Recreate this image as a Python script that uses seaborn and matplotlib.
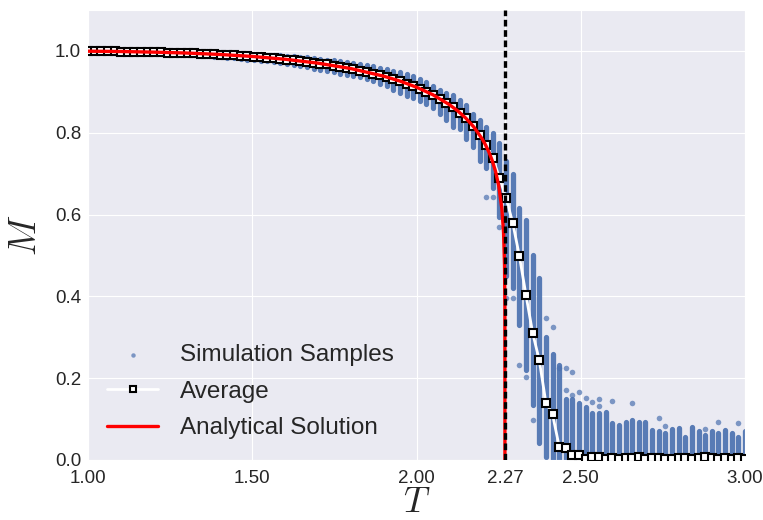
import numpy as np
import matplotlib
matplotlib.use("Agg")
import matplotlib.pyplot as plt
import seaborn as sns

# ---------------- data ----------------
T = [1.0, 1.0202, 1.0404, 1.0606, 1.0808, 1.1010, 1.1212, 1.1414, 1.1616, 1.1818,
     1.2020, 1.2222, 1.2424, 1.2626, 1.2828, 1.3030, 1.3232, 1.3434, 1.3636, 1.3838,
     1.4040, 1.4242, 1.4444, 1.4646, 1.4848, 1.5051, 1.5253, 1.5455, 1.5657, 1.5859,
     1.6061, 1.6263, 1.6465, 1.6667, 1.6869, 1.7071, 1.7273, 1.7475, 1.7677, 1.7879,
     1.8081, 1.8283, 1.8485, 1.8687, 1.8889, 1.9091, 1.9293, 1.9495, 1.9697, 1.9899,
     2.0101, 2.0303, 2.0505, 2.0707, 2.0909, 2.1111, 2.1313, 2.1515, 2.1717, 2.1919,
     2.2121, 2.2323, 2.2525, 2.2727, 2.2929, 2.3131, 2.3333, 2.3535, 2.3737, 2.3939,
     2.4141, 2.4343, 2.4545, 2.4747, 2.4949, 2.5152, 2.5354, 2.5556, 2.5758, 2.5960,
     2.6162, 2.6364, 2.6566, 2.6768, 2.6970, 2.7172, 2.7374, 2.7576, 2.7778, 2.7980,
     2.8182, 2.8384, 2.8586, 2.8788, 2.8990, 2.9192, 2.9394, 2.9596, 2.9798, 3.0]

avg_M = [0.999, 0.999, 0.999, 0.999, 0.999, 0.998, 0.998, 0.998, 0.998, 0.997,
         0.997, 0.997, 0.996, 0.996, 0.995, 0.995, 0.994, 0.993, 0.993, 0.992,
         0.991, 0.990, 0.989, 0.988, 0.987, 0.986, 0.985, 0.983, 0.982, 0.981,
         0.979, 0.977, 0.975, 0.973, 0.971, 0.969, 0.967, 0.964, 0.961, 0.958,
         0.956, 0.952, 0.948, 0.944, 0.940, 0.937, 0.932, 0.927, 0.920, 0.914,
         0.907, 0.900, 0.892, 0.883, 0.873, 0.864, 0.849, 0.836, 0.816, 0.794,
         0.769, 0.738, 0.690, 0.640, 0.580, 0.499, 0.403, 0.311, 0.244, 0.140,
         0.112, 0.033, 0.030, 0.012, 0.012, 0.003, 0.008, 0.007, 0.003, 0.004,
         0.002, 0.004, 0.005, 0.008, 0.003, 0.004, 0.005, 0.003, 0.003, 0.004,
         0.004, 0.003, 0.005, 0.007, 0.006, 0.003, 0.006, 0.003, 0.004, 0.002]

# extent of the dense cloud of samples at each temperature
sample_lo = [0.997, 0.997, 0.997, 0.997, 0.996, 0.996, 0.996, 0.995, 0.995, 0.994,
             0.994, 0.993, 0.992, 0.992, 0.991, 0.990, 0.989, 0.988, 0.987, 0.986,
             0.985, 0.983, 0.982, 0.980, 0.979, 0.977, 0.976, 0.975, 0.973, 0.971,
             0.968, 0.966, 0.963, 0.960, 0.957, 0.954, 0.951, 0.948, 0.944, 0.941,
             0.938, 0.935, 0.931, 0.927, 0.920, 0.913, 0.905, 0.897, 0.890, 0.884,
             0.878, 0.870, 0.860, 0.845, 0.832, 0.815, 0.808, 0.785, 0.766, 0.730,
             0.714, 0.665, 0.595, 0.450, 0.420, 0.330, 0.220, 0.134, 0.041, 0.008,
             0.0, 0.0, 0.0, 0.0, 0.0, 0.0, 0.0, 0.0, 0.0, 0.0,
             0.0, 0.0, 0.0, 0.0, 0.0, 0.0, 0.0, 0.0, 0.0, 0.0,
             0.0, 0.0, 0.0, 0.0, 0.0, 0.0, 0.0, 0.0, 0.0, 0.0]
sample_hi = [1.000, 1.000, 1.000, 1.000, 1.000, 1.000, 1.000, 1.000, 1.000, 1.000,
             1.000, 1.000, 1.000, 1.000, 1.000, 1.000, 1.000, 1.000, 0.999, 0.998,
             0.997, 0.996, 0.995, 0.994, 0.993, 0.992, 0.992, 0.991, 0.990, 0.989,
             0.988, 0.987, 0.985, 0.984, 0.982, 0.980, 0.979, 0.977, 0.975, 0.973,
             0.971, 0.968, 0.965, 0.962, 0.959, 0.956, 0.952, 0.949, 0.944, 0.938,
             0.931, 0.925, 0.915, 0.905, 0.898, 0.892, 0.880, 0.868, 0.845, 0.831,
             0.815, 0.800, 0.775, 0.730, 0.700, 0.616, 0.587, 0.500, 0.445, 0.300,
             0.260, 0.232, 0.150, 0.150, 0.140, 0.130, 0.115, 0.115, 0.117, 0.090,
             0.086, 0.094, 0.098, 0.094, 0.094, 0.073, 0.070, 0.065, 0.077, 0.079,
             0.057, 0.081, 0.070, 0.060, 0.070, 0.066, 0.073, 0.066, 0.057, 0.070]

# isolated samples outside the dense clouds
outlier_T = [2.2121, 2.2323, 2.2525, 2.2727, 2.2929, 2.3131, 2.3333, 2.3535, 2.3939,
             2.4141, 2.4343, 2.4545, 2.4545, 2.4747, 2.4747, 2.4949, 2.5152, 2.5354,
             2.5556, 2.5556, 2.5960, 2.6566, 2.7374, 2.7576, 2.8788, 2.9192, 2.9798]
outlier_M = [0.644, 0.642, 0.570, 0.395, 0.396, 0.232, 0.204, 0.098, 0.346,
             0.326, 0.224, 0.226, 0.171, 0.216, 0.160, 0.167, 0.152, 0.143,
             0.148, 0.132, 0.145, 0.139, 0.102, 0.083, 0.075, 0.094, 0.091]

# analytical (Onsager) curve
exact_T = [1.0, 1.1, 1.2, 1.3, 1.4, 1.5, 1.6, 1.7, 1.8, 1.9, 1.95, 2.0, 2.05, 2.1,
           2.125, 2.15, 2.175, 2.2, 2.21, 2.22, 2.23, 2.24, 2.25, 2.26, 2.265,
           2.268, 2.269, 2.2692]
exact_M = [0.9993, 0.9985, 0.9970, 0.9948, 0.9914, 0.9865, 0.9796, 0.9701, 0.9569,
           0.9383, 0.9262, 0.9113, 0.8928, 0.8687, 0.8537, 0.8357, 0.8136, 0.7848,
           0.7704, 0.7535, 0.7331, 0.7073, 0.6719, 0.6134, 0.5563, 0.4753, 0.3767, 0.0]

T_c = 2.27
x_ticks = [1.0, 1.5, 2.0, 2.27, 2.5, 3.0]
x_ticklabels = ["1.00", "1.50", "2.00", "2.27", "2.50", "3.00"]
y_ticks = [0.0, 0.2, 0.4, 0.6, 0.8, 1.0]

# ---------------- style ----------------
sns.set_style("darkgrid")
plt.rcParams["font.family"] = ["Liberation Sans", "DejaVu Sans"]
plt.rcParams["mathtext.fontset"] = "cm"

blue = "#4c72b0"

fig = plt.figure(figsize=(7.63, 5.20), dpi=100)
ax = fig.add_axes([88 / 763, 60 / 520, (745 - 88) / 763, (460 - 10) / 520])

# dense sample clouds
ax.vlines(T, sample_lo, sample_hi, colors=blue, linewidth=3.8, alpha=0.92,
          capstyle="round", zorder=2)
# isolated samples
sns.scatterplot(x=outlier_T, y=outlier_M, ax=ax, color=blue, s=16, alpha=0.7,
                linewidth=0, zorder=2, label="Simulation Samples")

# average
sns.lineplot(x=T, y=avg_M, ax=ax, color="white", linewidth=2.0, marker="s",
             markersize=6, markerfacecolor="white", markeredgecolor="black",
             markeredgewidth=1.5, estimator=None, sort=False, zorder=3,
             label="Average")

# analytical solution
sns.lineplot(x=exact_T, y=exact_M, ax=ax, color="#ff0000", linewidth=2.4,
             estimator=None, sort=False, zorder=4, label="Analytical Solution")

# critical temperature
ax.axvline(T_c, color="black", linewidth=2.4, linestyle=(0, (2.0, 1.1)), zorder=5)

ax.set_xlim(1.0, 3.0)
ax.set_ylim(0.0, 1.1)
ax.set_xticks(x_ticks)
ax.set_xticklabels(x_ticklabels)
ax.set_yticks(y_ticks)
ax.set_yticklabels([f"{v:.1f}" for v in y_ticks])
ax.tick_params(axis="both", labelsize=13.5, colors="#262626", length=0)
ax.tick_params(axis="x", pad=7)
ax.tick_params(axis="y", pad=5)

ax.set_xlabel(r"$T$", fontsize=26, labelpad=-1)
ax.set_ylabel(r"$M$", fontsize=27, labelpad=8)

handles, labels = ax.get_legend_handles_labels()
leg = ax.legend(handles, labels, loc="lower left", bbox_to_anchor=(0.0, 0.003),
                frameon=False, fontsize=17.5, handlelength=2.1, handletextpad=0.9,
                labelspacing=0.6, borderpad=0.3, scatterpoints=1, markerscale=0.8)

fig.savefig("out.png", dpi=100)
